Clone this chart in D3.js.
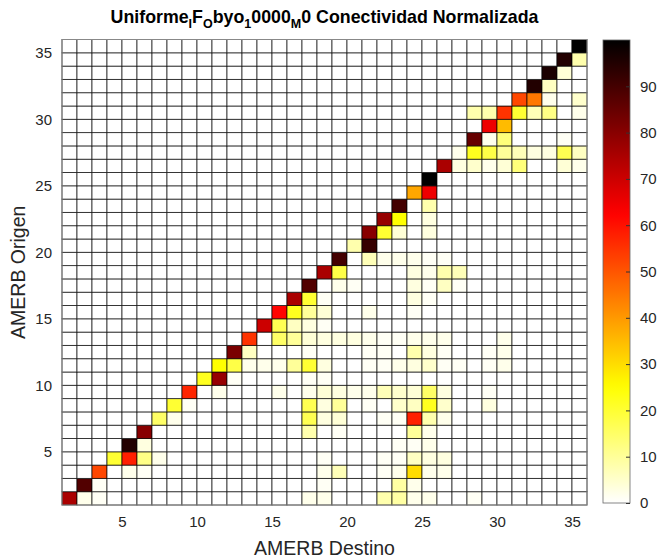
<!DOCTYPE html>
<html>
<head>
<meta charset="utf-8">
<script src="https://cdn.jsdelivr.net/npm/d3@7"></script>
<style>
  body { margin: 0; background: #fff; }
  text { font-family: "Liberation Sans", Arial, sans-serif; }
</style>
</head>
<body>
<div class="chart"></div>
<script>
let svgWidth = 658;
let svgHeight = 558;

// AMERB indices (1..35) and ticks
let amerbs = [1,2,3,4,5,6,7,8,9,10,11,12,13,14,15,16,17,18,19,20,21,22,23,24,25,26,27,28,29,30,31,32,33,34,35];
let axisTicks = [5, 10, 15, 20, 25, 30, 35];
let colorTicks = [0, 10, 20, 30, 40, 50, 60, 70, 80, 90];

// non zero cells: [origen, destino, valor]
let conexiones = [
  [1,1,75],[1,2,2],[1,3,1],[1,17,2],[1,18,2],[1,22,8],[1,23,9],[1,24,2],[1,25,2],[1,28,1],
  [2,2,88],[2,3,1],[2,18,1],[2,23,9],[2,24,2],
  [3,3,52],[3,5,2],[3,6,1],[3,18,2],[3,19,7],[3,22,1],[3,23,2],[3,24,30],[3,25,2],[3,26,2],
  [4,4,20],[4,5,58],[4,6,12],[4,7,2],[4,18,1],[4,22,1],[4,23,1],[4,24,6],[4,25,3],[4,26,3],
  [5,5,95],[5,6,3],[5,23,1],[5,24,1],[5,25,2],
  [6,6,80],[6,17,8],[6,19,1],[6,24,10],[6,25,2],
  [7,7,15],[7,8,2],[7,17,17],[7,18,3],[7,19,4],[7,22,1],[7,23,1],[7,24,58],[7,25,8],[7,26,2],
  [8,8,20],[8,9,1],[8,17,17],[8,18,3],[8,19,10],[8,21,1],[8,23,5],[8,24,6],[8,25,22],[8,26,5],[8,29,3],
  [9,9,57],[9,11,2],[9,15,2],[9,17,2],[9,18,4],[9,19,3],[9,20,2],[9,21,2],[9,22,7],[9,23,5],[9,24,4],[9,25,15],[9,26,3],[9,29,1],
  [10,10,22],[10,11,78],[10,12,1],[10,17,1],[10,18,1],
  [11,11,25],[11,12,18],[11,13,2],[11,14,2],[11,15,2],[11,16,10],[11,17,20],[11,18,3],[11,21,1],[11,22,1],[11,23,2],[11,24,3],[11,25,5],[11,26,1],[11,27,1],[11,29,1],[11,30,2],
  [12,12,82],[12,13,6],[12,17,1],[12,21,1],[12,22,1],[12,24,8],[12,25,3],[12,26,1],[12,29,1],[12,30,2],
  [13,13,55],[13,15,15],[13,16,10],[13,17,4],[13,18,3],[13,19,3],[13,20,3],[13,21,2],[13,22,1],[13,23,1],[13,24,2],[13,25,2],[13,26,2],[13,30,2],
  [14,14,70],[14,15,17],[14,16,6],[14,17,3],[14,18,1],
  [15,15,62],[15,16,22],[15,17,10],[15,18,4],[15,21,2],[15,24,1],
  [16,16,75],[16,17,20],[16,18,1],[16,24,3],[16,25,1],
  [17,17,88],[17,19,2],[17,20,1],[17,24,3],[17,25,1],[17,26,6],[17,27,1],
  [18,18,75],[18,19,18],[18,24,3],[18,25,2],[18,26,8],[18,27,7],
  [19,19,90],[19,21,7],[19,22,2],[19,23,2],[19,24,2],[19,25,1],[19,26,1],
  [20,20,8],[20,21,92],
  [21,21,80],[21,22,20],[21,23,4],[21,25,3],
  [22,22,78],[22,23,25],[22,25,3],
  [23,23,90],[23,25,8],
  [24,24,38],[24,25,65],
  [25,25,100],
  [26,26,75],[26,27,3],[26,28,5],[26,29,2],[26,30,4],[26,31,13],[26,34,4],[26,35,2],
  [27,27,2],[27,28,22],[27,29,18],[27,30,10],[27,31,7],[27,32,3],[27,33,3],[27,34,17],[27,35,6],
  [28,28,85],[28,29,2],[28,30,13],[28,34,1],
  [29,29,65],[29,30,35],
  [30,28,8],[30,29,8],[30,30,55],[30,31,20],[30,32,7],[30,33,12],[30,35,2],
  [31,31,52],[31,32,45],[31,33,2],[31,35,5],
  [32,32,95],[32,33,6],
  [33,33,96],[33,34,4],
  [34,34,95],[34,35,8],
  [35,35,100]
];

let margin = { top: 39.5, right: 71, bottom: 53, left: 62 };
let width = svgWidth - margin.left - margin.right;
let height = svgHeight - margin.top - margin.bottom;

// full matrix, zeros where nothing was read
let matriz = [];
amerbs.forEach(o => amerbs.forEach(d => matriz.push({ origen: o, destino: d, valor: 0 })));
conexiones.forEach(c => { matriz[(c[0] - 1) * amerbs.length + (c[1] - 1)].valor = c[2]; });

// flipped matlab "hot"
function hotInv(v) {
  let t = 1 - Math.max(0, Math.min(1, v / 100));
  let r = Math.min(1, t / 0.375);
  let g = Math.max(0, Math.min(1, (t - 0.375) / 0.375));
  let b = Math.max(0, Math.min(1, (t - 0.75) / 0.25));
  return d3.rgb(r * 255, g * 255, b * 255).toString();
}

let svg = d3.select(".chart")
  .append("svg")
  .attr("width", svgWidth)
  .attr("height", svgHeight);

let chartGroup = svg.append("g")
  .attr("transform", `translate(${margin.left}, ${margin.top})`);

let xScale = d3.scaleLinear().domain([1, 36]).range([0, width]);
let yScale = d3.scaleLinear().domain([1, 36]).range([height, 0]);

chartGroup.selectAll("rect.cell")
  .data(matriz)
  .enter()
  .append("rect")
  .attr("class", "cell")
  .attr("x", d => xScale(d.destino))
  .attr("y", d => yScale(d.origen + 1))
  .attr("width", d => xScale(d.destino + 1) - xScale(d.destino))
  .attr("height", d => yScale(d.origen) - yScale(d.origen + 1))
  .attr("fill", d => hotInv(d.valor))
  .attr("stroke", "#000")
  .attr("stroke-opacity", 0.75)
  .attr("stroke-width", 0.9);

chartGroup.append("rect")
  .attr("width", width)
  .attr("height", height)
  .attr("fill", "none")
  .attr("stroke", "#888")
  .attr("stroke-width", 1);

let xAxis = d3.axisBottom(xScale).tickValues(axisTicks).tickSize(0).tickPadding(11);
let yAxis = d3.axisLeft(yScale).tickValues(axisTicks).tickSize(0).tickPadding(10);

let gx = chartGroup.append("g")
  .attr("transform", `translate(0, ${height})`)
  .call(xAxis);
let gy = chartGroup.append("g").call(yAxis);

[gx, gy].forEach(g => {
  g.select(".domain").remove();
  g.selectAll("text")
    .attr("font-size", 15)
    .attr("fill", "#262626")
    .style("font-family", "'Liberation Sans', Arial, sans-serif");
});

// axis titles
svg.append("text")
  .attr("x", margin.left + width / 2)
  .attr("y", 555)
  .attr("text-anchor", "middle")
  .attr("font-size", 19.5)
  .attr("fill", "#262626")
  .text("AMERB Destino");

svg.append("text")
  .attr("transform", `translate(25, ${margin.top + height / 2}) rotate(-90)`)
  .attr("text-anchor", "middle")
  .attr("font-size", 19.5)
  .attr("fill", "#262626")
  .text("AMERB Origen");

// title with tex style subscripts
let titleParts = [["Uniforme", false], ["I", true], ["F", false], ["O", true], ["byo", false], ["1", true], ["0000", false], ["M", true], ["0 Conectividad Normalizada", false]];
let title = svg.append("text")
  .attr("x", margin.left + width / 2)
  .attr("y", 23)
  .attr("text-anchor", "middle")
  .attr("font-size", 17.8)
  .attr("font-weight", "bold")
  .attr("fill", "#000");
let down = false;
titleParts.forEach(p => {
  let ts = title.append("tspan").text(p[0]);
  if (p[1]) {
    ts.attr("font-size", 12.5).attr("dy", down ? 0 : 5);
    down = true;
  } else {
    ts.attr("dy", down ? -5 : 0);
    down = false;
  }
});

// colorbar
let cbX = 603, cbW = 27, cbTop = 40, cbBottom = 503;
let cScale = d3.scaleLinear().domain([0, 100]).range([cbBottom, cbTop]);

let grad = svg.append("defs").append("linearGradient")
  .attr("id", "hotGrad")
  .attr("x1", 0).attr("y1", 1).attr("x2", 0).attr("y2", 0);
d3.range(0, 101, 2).forEach(v => {
  grad.append("stop").attr("offset", `${v}%`).attr("stop-color", hotInv(v));
});

svg.append("rect")
  .attr("x", cbX)
  .attr("y", cbTop)
  .attr("width", cbW)
  .attr("height", cbBottom - cbTop)
  .attr("fill", "url(#hotGrad)")
  .attr("stroke", "#666")
  .attr("stroke-width", 0.8);

let cAxis = d3.axisRight(cScale).tickValues(colorTicks).tickSizeInner(-4).tickSizeOuter(0).tickPadding(10);
let gc = svg.append("g")
  .attr("transform", `translate(${cbX + cbW}, 0)`)
  .call(cAxis);
gc.select(".domain").remove();
gc.selectAll("line").attr("stroke", "#333");
gc.selectAll("text")
  .attr("font-size", 15)
  .attr("fill", "#262626")
  .style("font-family", "'Liberation Sans', Arial, sans-serif");
</script>
</body>
</html>
